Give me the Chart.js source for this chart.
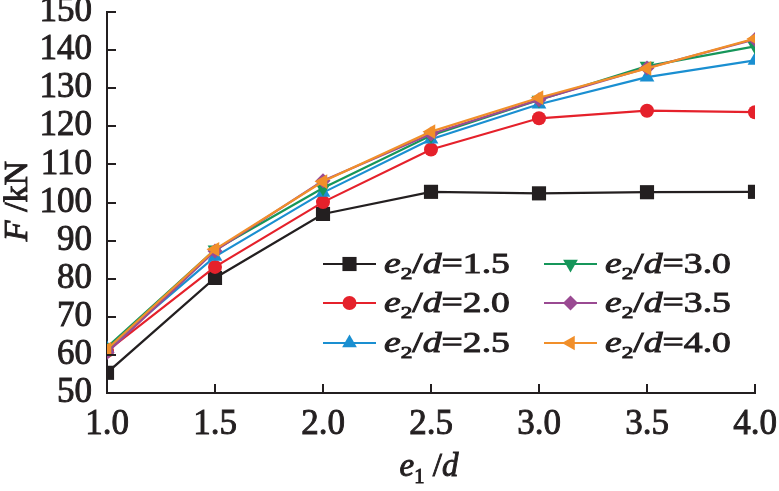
<!DOCTYPE html>
<html><head><meta charset="utf-8">
<script src="https://cdn.jsdelivr.net/npm/chart.js@4/dist/chart.umd.min.js"></script>
<style>html,body{margin:0;padding:0;background:#fff;}#wrap{width:779px;height:491px;position:relative;}</style>
</head><body><div id="wrap"><canvas id="c"></canvas></div>
<script>
const categories = [1.0, 1.5, 2.0, 2.5, 3.0, 3.5, 4.0];
const xTickLabels = ['1.0', '1.5', '2.0', '2.5', '3.0', '3.5', '4.0'];
const yTickValues = [50, 60, 70, 80, 90, 100, 110, 120, 130, 140, 150];
const seriesNames = ['1.5', '2.0', '2.5', '3.0', '3.5', '4.0'];
const s15 = [55.3, 80.2, 97.0, 102.8, 102.4, 102.7, 102.8];
const s20 = [61.0, 83.1, 100.1, 113.9, 122.1, 124.1, 123.7];
const s25 = [61.6, 85.8, 102.6, 116.6, 125.8, 132.9, 137.3];
const s30 = [62.0, 87.6, 103.8, 117.6, 126.9, 135.8, 141.0];
const s35 = [60.6, 87.3, 105.7, 118.0, 127.0, 135.3, 142.8];
const s40 = [61.5, 87.7, 105.5, 118.6, 127.5, 135.2, 143.0];

const seriesValues = [s15, s20, s25, s30, s35, s40];
const colors = ['#231f20', '#e5212b', '#1a8fd1', '#16965a', '#9a4a92', '#f18f2a'];
const pStyles = ['rect', 'circle', 'triangle', 'triangle', 'rectRot', 'triangle'];
const pRot = [0, 0, 0, 180, 0, -90];
const pRad = [10, 7, 8.5, 8.5, 7.5, 8.5];
const SERIF = '"Liberation Serif", "DejaVu Serif", serif';
const INK = '#231f20';

const datasets = seriesValues.map((vals, i) => ({
  label: 'e2/d=' + seriesNames[i],
  data: categories.map((c, j) => ({x: c, y: vals[j]})),
  borderColor: colors[i],
  backgroundColor: colors[i],
  borderWidth: 2.2,
  pointStyle: pStyles[i],
  rotation: pRot[i],
  pointRadius: pRad[i],
  pointHoverRadius: pRad[i],
  pointBorderWidth: 0,
  tension: 0,
  order: 5 - i
}));

function drawRuns(ctx, runs, x, y, size, sx) {
  let w = 0;
  const items = runs.map(r => {
    const fs = r.sub ? size * 0.62 : size;
    const f = (r.it ? 'italic ' : '') + fs + 'px ' + SERIF;
    ctx.font = f;
    const rw = ctx.measureText(r.t).width;
    const it = {r, f, rw, off: w};
    w += rw;
    return it;
  });
  if (x !== null) {
    ctx.save();
    ctx.translate(x, y);
    ctx.scale(sx, 1);
    ctx.textBaseline = 'alphabetic';
    ctx.textAlign = 'left';
    ctx.strokeStyle = INK;
    ctx.lineWidth = 0.9;
    items.forEach(it => {
      ctx.font = it.f;
      const yy = it.r.sub ? size * 0.22 : 0;
      ctx.fillText(it.r.t, it.off, yy);
      ctx.strokeText(it.r.t, it.off, yy);
    });
    ctx.restore();
  }
  return w * sx;
}

const decorPlugin = {
  id: 'decor',
  afterDraw(chart) {
    const ctx = chart.ctx;
    const xs = chart.scales.x, ys = chart.scales.y;
    ctx.save();
    ctx.strokeStyle = INK;
    ctx.lineWidth = 2;
    ctx.beginPath();
    yTickValues.forEach(v => {
      const py = Math.round(ys.getPixelForValue(v));
      ctx.moveTo(xs.left, py);
      ctx.lineTo(xs.left + 9, py);
    });
    categories.forEach(v => {
      const px = Math.round(xs.getPixelForValue(v));
      ctx.moveTo(px, ys.bottom);
      ctx.lineTo(px, ys.bottom - 9);
    });
    ctx.stroke();
    ctx.fillStyle = INK;
    // x title
    const xr = [{t: 'e', it: true}, {t: '1', sub: true}, {t: ' /'}, {t: 'd', it: true}];
    const xw = drawRuns(ctx, xr, null, 0, 33, 1);
    drawRuns(ctx, xr, 429 - xw / 2, 476, 33, 1);
    // y title
    const yr = [{t: 'F', it: true}, {t: ' /kN'}];
    const yw = drawRuns(ctx, yr, null, 0, 34, 1);
    ctx.save();
    ctx.translate(27, 201);
    ctx.rotate(-Math.PI / 2);
    ctx.fillStyle = INK;
    drawRuns(ctx, yr, -yw / 2, 0, 34, 1);
    ctx.restore();
    // legend
    const colLine = [323, 544], colText = [384, 605], rowY = [264, 303, 343];
    seriesNames.forEach((n, i) => {
      const col = Math.floor(i / 3), row = i % 3;
      const y = rowY[row], x0 = colLine[col];
      ctx.strokeStyle = colors[i];
      ctx.fillStyle = colors[i];
      ctx.lineWidth = 2.2;
      ctx.beginPath();
      ctx.moveTo(x0, y); ctx.lineTo(x0 + 53, y); ctx.stroke();
      Chart.helpers.drawPoint(ctx, {pointStyle: pStyles[i], rotation: pRot[i], radius: pRad[i], borderWidth: 0}, x0 + 26.5, y);
      ctx.fillStyle = INK;
      drawRuns(ctx, [{t: 'e', it: true}, {t: '2', sub: true}, {t: '/'}, {t: 'd', it: true}, {t: '=' + n}], colText[col], y + 9, 28.5, 1.32);
    });
    ctx.restore();
  }
};

function zeroPad(s) { s.paddingTop = 0; s.paddingBottom = 0; s.paddingLeft = 0; s.paddingRight = 0; }

new Chart(document.getElementById('c'), {
  type: 'line',
  data: {datasets},
  plugins: [decorPlugin],
  options: {
    responsive: true,
    maintainAspectRatio: false,
    animation: false,
    devicePixelRatio: 1,
    layout: {padding: {top: 12, right: 24, left: 0, bottom: 0}},
    plugins: {legend: {display: false}, tooltip: {enabled: false}},
    scales: {
      x: {
        type: 'linear', min: 1, max: 4,
        afterFit: s => { s.height = 98; zeroPad(s); },
        afterBuildTicks: s => { s.ticks = categories.map(v => ({value: v})); },
        ticks: {
          callback: (v) => xTickLabels[categories.indexOf(v)],
          font: {family: SERIF, size: 35}, color: INK, padding: 11, maxRotation: 0, autoSkip: false,
          textStrokeWidth: 0.9, textStrokeColor: INK
        },
        grid: {display: false, drawTicks: false},
        border: {display: true, color: INK, width: 2}
      },
      y: {
        min: 50, max: 150,
        afterFit: s => { s.width = 107; zeroPad(s); },
        afterBuildTicks: s => { s.ticks = yTickValues.map(v => ({value: v})); },
        ticks: {
          font: {family: SERIF, size: 35}, color: INK, padding: 15, autoSkip: false,
          textStrokeWidth: 0.9, textStrokeColor: INK
        },
        grid: {display: false, drawTicks: false},
        border: {display: true, color: INK, width: 2}
      }
    }
  }
});
</script></body></html>
